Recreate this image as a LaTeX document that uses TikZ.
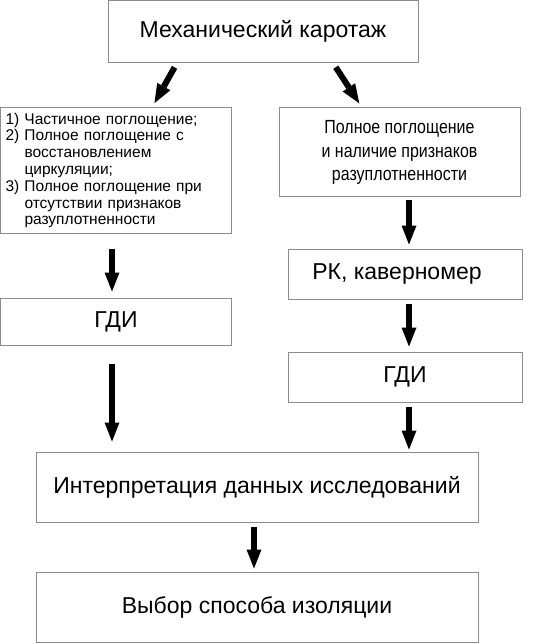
\documentclass[tikz,border=0pt]{standalone}
\usepackage{fontspec}
\setmainfont{Liberation Sans}
\newfontfamily\narrowfont[FakeStretch=0.84]{Liberation Sans}
\usetikzlibrary{arrows.meta}
\begin{document}
\begin{tikzpicture}[x=1pt,y=-1pt,font=\fontsize{23}{27}\selectfont,
box/.style={draw=black!45,line width=1pt,inner sep=0pt,align=center},
arr/.style={-{Triangle[width=15pt,length=19pt,line width=0pt]},line width=6pt}]
\useasboundingbox(0,0)rectangle(548,644);
\node[box,minimum width=310pt,minimum height=62pt](mech)at(263,31.5){Механический каротаж};
\node[box,minimum width=231pt,minimum height=125pt,text width=221pt,align=left,inner xsep=5pt,
 font=\fontsize{15.5}{16.8}\selectfont](lft)at(116,170.5){1) Частичное поглощение;\\2) Полное поглощение с\\
 \hspace*{19pt}восстановлением\\\hspace*{19pt}циркуляции;\\3) Полное поглощение при\\
 \hspace*{19pt}отсутствии признаков\\\hspace*{19pt}разуплотненности};
\node[box,minimum width=241pt,minimum height=89pt,font=\narrowfont\fontsize{19}{23.3}\selectfont](rgt)at(399.5,152.5)
 {Полное поглощение\\и наличие признаков\\разуплотненности};
\node[box,minimum width=231pt,minimum height=47pt](gdil)at(116,321.5){ГДИ};
\node[box,minimum width=234pt,minimum height=50pt](rk)at(405,274){\hspace*{-16pt}РК, каверномер};
\node[box,minimum width=234pt,minimum height=50pt](gdir)at(405,377){ГДИ};
\node[box,minimum width=442pt,minimum height=70pt](interp)at(257,487){Интерпретация данных исследований};
\node[box,minimum width=442pt,minimum height=70pt](choice)at(257,607){Выбор способа изоляции};
\draw[arr,shorten <=5pt,shorten >=5pt]([xshift=-86pt]mech.south)--([xshift=36pt]lft.north);
\draw[arr,shorten <=5pt,shorten >=5pt]([xshift=70pt]mech.south)--([xshift=-37.5pt]rgt.north);
\draw[arr,shorten <=15pt,shorten >=6pt]([xshift=-4pt]lft.south)--([xshift=-4pt]gdil.north);
\draw[arr,shorten <=18pt,shorten >=10pt]([xshift=-4pt]gdil.south)--([xshift=-4pt]gdil.south|-interp.north);
\draw[arr,shorten <=3pt,shorten >=4pt]([xshift=9.5pt]rgt.south)--([xshift=4pt]rk.north);
\draw[arr,shorten <=4pt,shorten >=5pt]([xshift=4pt]rk.south)--([xshift=4pt]gdir.north);
\draw[arr,shorten <=4pt,shorten >=2pt]([xshift=4pt]gdir.south)--([xshift=4pt]gdir.south|-interp.north);
\draw[arr,shorten <=4pt,shorten >=3pt]([xshift=-3pt]interp.south)--([xshift=-3pt]choice.north);
\end{tikzpicture}
\end{document}
